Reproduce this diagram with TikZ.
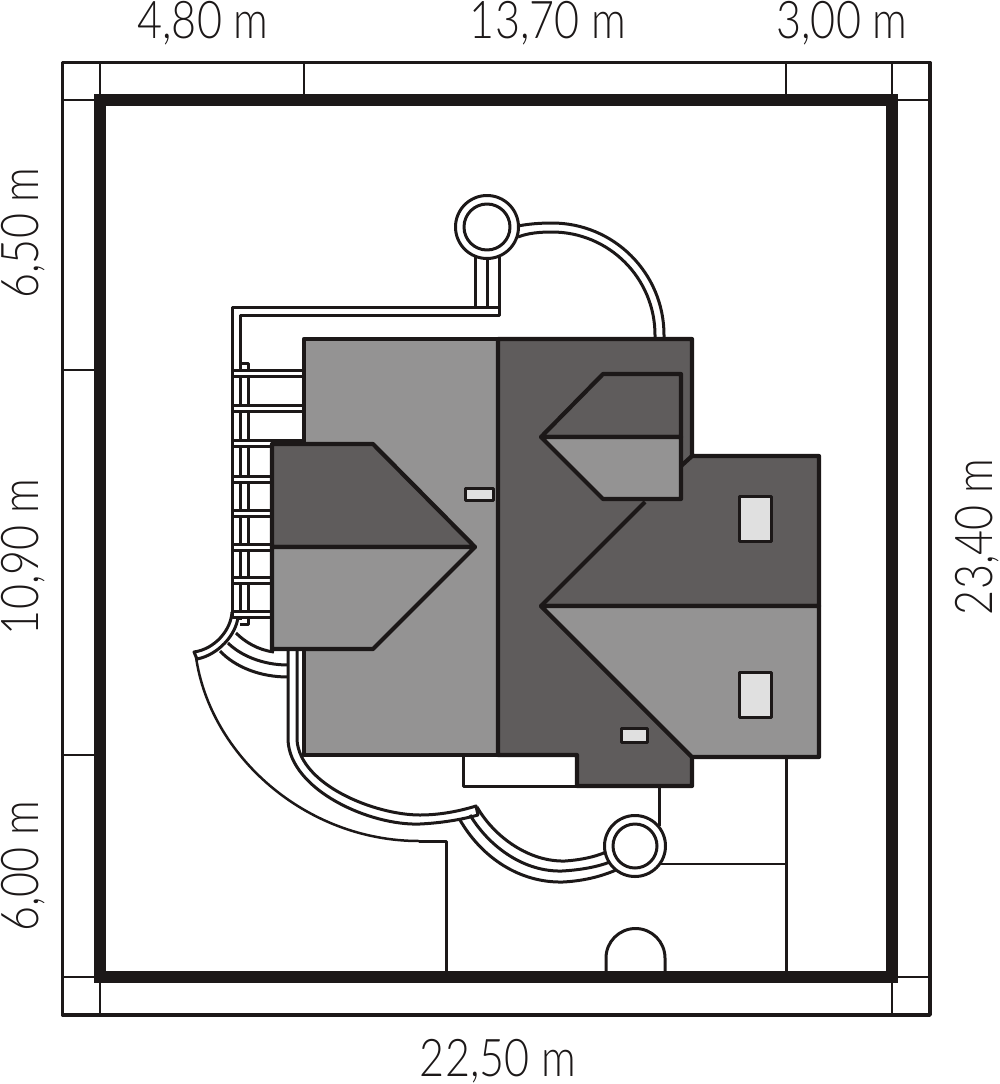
\documentclass[tikz,border=0pt]{standalone}
\usepackage{fontspec}
\usepackage{xcolor}
\setmainfont[FakeStretch=0.83]{Lato Light}
\definecolor{inkline}{HTML}{1C1818}
\definecolor{roofdark}{HTML}{5F5C5C}
\definecolor{rooflight}{HTML}{949393}
\definecolor{skylight}{HTML}{E0E0E0}

\begin{document}
\begin{tikzpicture}[
    x=1pt, y=-1pt,
    line join=round,
    every path/.style={draw=inkline},
    plotline/.style={line width=12pt, line join=miter},
    frameline/.style={line width=3.5pt},
    tickline/.style={line width=2.5pt},
    pathline/.style={line width=3pt},
    fenceline/.style={line width=3pt},
    roofline/.style={line width=4.2pt},
    windowbox/.style={line width=3pt, fill=skylight},
    sizelabel/.style={draw=none, font=\fontsize{52}{52}\selectfont, text=inkline, inner sep=0pt, anchor=base}
]
\useasboundingbox[draw=none] (0,0) rectangle (999,1084);

% Frame and ticks
\draw[frameline] (62.5,62.5) rectangle (930,1015);
\draw[tickline] (100,62.5) -- (100,100);
\draw[tickline] (304,62.5) -- (304,100);
\draw[tickline] (786,62.5) -- (786,100);
\draw[tickline] (892,62.5) -- (892,100);
\draw[tickline] (100,977) -- (100,1015);
\draw[tickline] (892,977) -- (892,1015);
\draw[tickline] (62.5,100) -- (100,100);
\draw[tickline] (62.5,370) -- (100,370);
\draw[tickline] (62.5,755) -- (100,755);
\draw[tickline] (62.5,977) -- (100,977);
\draw[tickline] (892,100) -- (930,100);
\draw[tickline] (892,977) -- (930,977);

% Walls of the garden
\draw[fenceline] (786.5,757) -- (786.5,977);
\draw[fenceline] (659,786) -- (659,826);
\draw[tickline] (660,864) -- (786.5,864);
\draw[fenceline] (446,977) -- (446,841) -- (419,841);
\draw[pathline, line width=2.5pt] (196,657) .. controls (210,755) and (305,841) .. (419,841);
\draw[fenceline] (606,977) -- (606,958) arc[start angle=180, end angle=360, radius=29.5] -- (665,977);

% Top walkway
\draw[pathline] (475,240) -- (475,307);
\draw[pathline] (487,240) -- (487,307);
\draw[pathline] (499,240) -- (499,315) -- (240,315) -- (240,620);
\draw[pathline] (499,307) -- (232,307) -- (232,612);
\draw[pathline] (240,363) -- (248,363) -- (248,624) -- (240,624);
\draw[pathline] (518,226) .. controls (528,224) and (540,223) .. (552,223) arc[start angle=270, end angle=360, radius=112] -- (664,340);
\draw[pathline] (518,237) .. controls (528,233) and (540,232) .. (552,232) arc[start angle=270, end angle=360, radius=103] -- (655,340);

% Rungs
\foreach \rungy in {370,405,440,476,510,544,577,611}
    \draw[pathline, fill=white] (232,\rungy) rectangle (304,\rungy+6.5);

% Curved steps on the left
\draw[pathline] (232,612) .. controls (231,630) and (215,649) .. (194,652) -- (197,659) .. controls (218,655) and (236,635) .. (238,617);
\draw[pathline] (236,633) .. controls (245,642) and (258,650) .. (274,652);
\draw[pathline] (228,643) .. controls (240,655) and (262,665) .. (288,665);
\draw[pathline] (220,651) .. controls (235,667) and (260,677) .. (288,677);

% Lower walkway
\draw[pathline] (288,650) -- (288,740) .. controls (290,790) and (370,826) .. (420,824) .. controls (440,823) and (460,820) .. (478,815) -- (476,806) .. controls (460,811) and (440,815) .. (420,815) .. controls (375,815) and (300,785) .. (297,740) -- (297,650);
\draw[pathline] (477,807) .. controls (495,838) and (530,862) .. (565,861) .. controls (580,860) and (595,857) .. (606,852);
\draw[pathline] (470,815) .. controls (490,848) and (525,872) .. (562,871) .. controls (580,870) and (597,867) .. (610,862);
\draw[pathline] (460,820) .. controls (482,858) and (520,883) .. (563,882) .. controls (582,881) and (600,877) .. (616,870);

% Round platforms
\draw[pathline, fill=white] (487,227) circle[radius=31.5];
\draw[pathline, fill=white] (487,227) circle[radius=23];
\draw[pathline, fill=white] (635,846) circle[radius=30.5];
\draw[pathline, fill=white] (635,846) circle[radius=22];

% Terrace
\draw[fenceline, fill=white] (463,755) rectangle (577,786);

% Main roof
\draw[roofline, fill=rooflight] (304,339) rectangle (498,755);
\draw[roofline, fill=roofdark] (498,339) -- (692,339) -- (692,456) -- (819,456) -- (819,606) -- (541,606) -- (692,757) -- (692,786) -- (577,786) -- (577,755) -- (498,755) -- cycle;
\draw[roofline, fill=rooflight] (541,606) -- (819,606) -- (819,757) -- (692,757) -- cycle;
\draw[roofline] (541,606) -- (645,502);
\draw[roofline] (681,466) -- (692,456);

% Left gable
\draw[roofline, fill=roofdark] (272,444) -- (373,444) -- (475,547) -- (272,547) -- cycle;
\draw[roofline, fill=rooflight] (272,547) -- (475,547) -- (373,649) -- (272,649) -- cycle;

% Right gable
\draw[roofline, fill=roofdark] (541,437) -- (603,374) -- (681,374) -- (681,437) -- cycle;
\draw[roofline, fill=rooflight] (541,437) -- (681,437) -- (681,499) -- (603,499) -- cycle;

% Roof windows
\draw[windowbox] (465,488) rectangle (493,500);
\draw[windowbox] (739,496) rectangle (771,541);
\draw[windowbox] (739,672) rectangle (771,717);
\draw[windowbox] (621,728) rectangle (647,742);

% Plot boundary
\draw[plotline] (100,100) rectangle (892,977);

% Sizes
\node[sizelabel] (sizea) at (203,38) {4,80 m};
\node[sizelabel] (sizeb) at (548,38) {13,70 m};
\node[sizelabel] (sizec) at (842,38) {3,00 m};
\node[sizelabel] (sized) at (498,1076) {22,50 m};
\node[sizelabel, rotate=90] (sizee) at (38,233) {6,50 m};
\node[sizelabel, rotate=90] (sizef) at (38,557) {10,90 m};
\node[sizelabel, rotate=90] (sizeg) at (38,866) {6,00 m};
\node[sizelabel, rotate=90] (sizeh) at (992,537) {23,40 m};

\end{tikzpicture}
\end{document}
